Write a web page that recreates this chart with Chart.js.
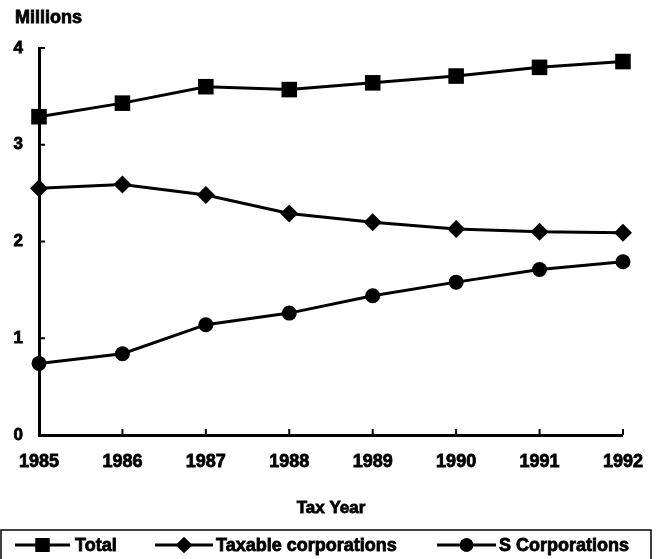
<!DOCTYPE html>
<html>
<head>
<meta charset="utf-8">
<script src="https://cdn.jsdelivr.net/npm/chart.js@4.4.1/dist/chart.umd.min.js"></script>
<style>
  html, body { margin: 0; padding: 0; background: #fff; }
</style>
</head>
<body>
<canvas id="taxChart" width="659" height="559"></canvas>
<script>
  // data
  const years = ['1985', '1986', '1987', '1988', '1989', '1990', '1991', '1992'];
  const total = [3.29, 3.43, 3.60, 3.57, 3.64, 3.71, 3.80, 3.86];
  const taxable = [2.55, 2.59, 2.48, 2.29, 2.20, 2.13, 2.10, 2.09];
  const sCorps = [0.74, 0.84, 1.14, 1.26, 1.44, 1.58, 1.71, 1.79];
  const yTicks = [0, 1, 2, 3, 4];
  const seriesNames = ['Total', 'Taxable corporations', 'S Corporations'];

  const FONT = "'Liberation Sans', Arial, Helvetica, sans-serif";
  Chart.defaults.font.family = FONT;
  Chart.defaults.color = '#000';

  // heavy print look: fill then a thin stroke
  function boldText(ctx, txt, x, y) {
    ctx.fillText(txt, x, y);
    ctx.strokeText(txt, x, y);
  }

  // small ticks pointing into the plot, like the printed chart
  const innerTicks = {
    id: 'innerTicks',
    afterDatasetsDraw(chart) {
      const { ctx, scales: { x, y } } = chart;
      ctx.save();
      ctx.strokeStyle = '#000';
      ctx.lineWidth = 2;
      ctx.beginPath();
      yTicks.forEach(v => {
        const py = y.getPixelForValue(v);
        ctx.moveTo(x.left, py);
        ctx.lineTo(x.left + 6, py);
      });
      years.forEach((yr, i) => {
        const px = x.getPixelForValue(i);
        ctx.moveTo(px, y.bottom);
        ctx.lineTo(px, y.bottom - 6);
      });
      ctx.stroke();
      ctx.restore();
    }
  };

  const titlesAndLegend = {
    id: 'titlesAndLegend',
    afterDraw(chart) {
      const { ctx, chartArea } = chart;
      ctx.save();
      ctx.fillStyle = '#000';
      ctx.strokeStyle = '#000';
      ctx.lineWidth = 0.8;
      ctx.textBaseline = 'middle';

      ctx.font = 'bold 18px ' + FONT;
      ctx.textAlign = 'left';
      boldText(ctx, 'Millions', 15, 18);

      ctx.font = 'bold 17px ' + FONT;
      ctx.textAlign = 'center';
      boldText(ctx, 'Tax Year', (chartArea.left + chartArea.right) / 2, 508);

      // legend box
      ctx.lineWidth = 1.5;
      ctx.strokeRect(1, 530, 650, 40);

      const slots = [
        { x0: 15, x1: 70, tx: 75 },
        { x0: 155, x1: 213, tx: 216 },
        { x0: 437, x1: 496, tx: 499 }
      ];
      const ly = 545;
      ctx.font = 'bold 18px ' + FONT;
      ctx.textAlign = 'left';
      chart.data.datasets.forEach((ds, i) => {
        const s = slots[i];
        ctx.lineWidth = 3;
        ctx.beginPath();
        ctx.moveTo(s.x0, ly);
        ctx.lineTo(s.x1, ly);
        ctx.stroke();
        Chart.helpers.drawPoint(ctx, {
          pointStyle: ds.pointStyle,
          radius: ds.pointRadius * 0.9,
          rotation: 0,
          borderWidth: 0
        }, (s.x0 + s.x1) / 2, ly);
        ctx.fill();
        ctx.lineWidth = 0.8;
        boldText(ctx, ds.label, s.tx, ly + 1);
      });
      ctx.restore();
    }
  };

  function series(label, data, style, radius) {
    return {
      label: label,
      data: data,
      borderColor: '#000',
      borderWidth: 3,
      pointStyle: style,
      pointRadius: radius,
      pointHoverRadius: radius,
      pointBackgroundColor: '#000',
      pointBorderColor: '#000',
      pointBorderWidth: 0,
      tension: 0,
      clip: false
    };
  }

  new Chart(document.getElementById('taxChart'), {
    type: 'line',
    data: {
      labels: years,
      datasets: [
        series(seriesNames[0], total, 'rect', 11),
        series(seriesNames[1], taxable, 'rectRot', 9),
        series(seriesNames[2], sCorps, 'circle', 7.5)
      ]
    },
    options: {
      responsive: false,
      animation: false,
      devicePixelRatio: 1,
      layout: { padding: { left: 0, top: 48, right: 31, bottom: 0 } },
      plugins: {
        legend: { display: false },
        tooltip: { enabled: false }
      },
      scales: {
        x: {
          offset: false,
          grid: { display: false, drawTicks: false },
          border: { display: true, color: '#000', width: 3 },
          ticks: {
            font: { size: 18, weight: 'bold' }, padding: 16, maxRotation: 0,
            textStrokeColor: '#000', textStrokeWidth: 0.8
          },
          afterFit: s => { s.height = 124; }
        },
        y: {
          min: 0,
          max: 4,
          grid: { display: false, drawTicks: false },
          border: { display: true, color: '#000', width: 3 },
          ticks: {
            stepSize: 1, font: { size: 17, weight: 'bold' }, padding: 16,
            textStrokeColor: '#000', textStrokeWidth: 0.8
          },
          afterFit: s => { s.width = 39; }
        }
      }
    },
    plugins: [innerTicks, titlesAndLegend]
  });
</script>
</body>
</html>
